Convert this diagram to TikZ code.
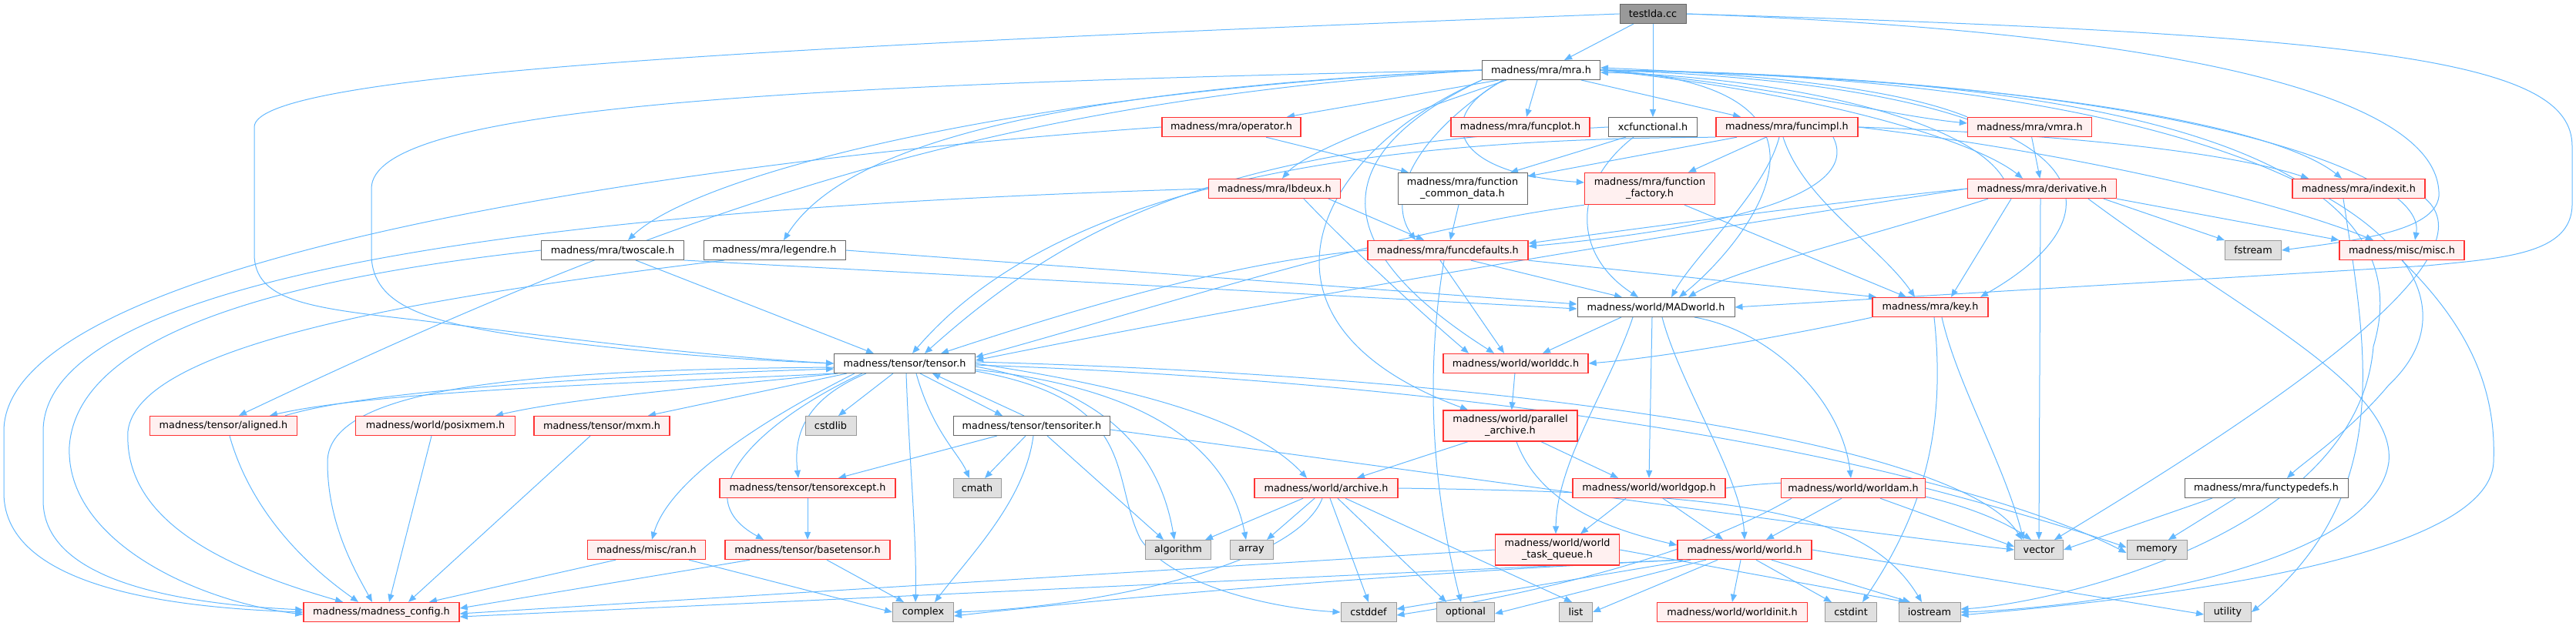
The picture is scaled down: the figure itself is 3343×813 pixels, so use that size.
\documentclass[tikz,border=0pt]{standalone}
\usepackage{fontspec}
\setmainfont{DejaVu Sans}
\usetikzlibrary{arrows.meta,positioning,backgrounds}

\definecolor{edgeblue}{HTML}{63B8FF}
\definecolor{redline}{HTML}{FF3333}
\definecolor{redfill}{HTML}{FFF0F0}
\definecolor{sysfill}{HTML}{E0E0E0}
\definecolor{sysline}{HTML}{999999}
\definecolor{rootfill}{HTML}{999999}
\definecolor{boxline}{HTML}{666666}

\tikzset{
  hdr/.style={draw=boxline, fill=white, line width=1pt, minimum height=25pt,
    inner sep=0pt, font=\fontsize{12.8}{15}\selectfont, align=center},
  redhdr/.style={hdr, draw=redline, fill=redfill, line width=1.4pt},
  syshdr/.style={hdr, draw=sysline, fill=sysfill},
  roothdr/.style={hdr, fill=rootfill},
  dep/.style={draw=edgeblue, line width=1pt, -{Triangle[length=10pt,width=8pt]}},
}

\begin{document}
\begin{tikzpicture}[x=1pt,y=-1pt]
\useasboundingbox (0,0) rectangle (3343,813);

% headers, row by row
\node[roothdr, minimum width=86pt] (testlda) at (2145,18) {testlda.cc};
\node[hdr, minimum width=153pt] (mra) at (2000,91) {madness/mra/mra.h};
\node[redhdr, minimum width=180pt] (operator) at (1598,165) {madness/mra/operator.h};
\node[redhdr, minimum width=180pt] (funcplot) at (1973,165) {madness/mra/funcplot.h};
\node[hdr, minimum width=115pt] (xcfunc) at (2145,165) {xcfunctional.h};
\node[redhdr, minimum width=184pt] (funcimpl) at (2319,165) {madness/mra/funcimpl.h};
\node[redhdr, minimum width=161pt] (vmra) at (2634,165) {madness/mra/vmra.h};
\node[redhdr, minimum width=171pt] (lbdeux) at (1654,245) {madness/mra/lbdeux.h};
\node[hdr, minimum width=168pt, minimum height=41pt] (fcd) at (1898,245) {madness/mra/function\\\_common\_data.h};
\node[redhdr, minimum width=169pt, minimum height=41pt] (factory) at (2141,245) {madness/mra/function\\\_factory.h};
\node[redhdr, minimum width=193pt] (deriv) at (2650,245) {madness/mra/derivative.h};
\node[redhdr, minimum width=172pt] (indexit) at (3061,245) {madness/mra/indexit.h};
\node[hdr, minimum width=185pt] (twoscale) at (795,325) {madness/mra/twoscale.h};
\node[hdr, minimum width=184pt] (legendre) at (1005,325) {madness/mra/legendre.h};
\node[redhdr, minimum width=208pt] (funcdef) at (1879,325) {madness/mra/funcdefaults.h};
\node[syshdr, minimum width=73pt] (fstream) at (2924,325) {fstream};
\node[redhdr, minimum width=162pt] (misc) at (3117,325) {madness/misc/misc.h};
\node[hdr, minimum width=204pt] (madworld) at (2149,399) {madness/world/MADworld.h};
\node[redhdr, minimum width=150pt] (key) at (2505,399) {madness/mra/key.h};
\node[hdr, minimum width=183pt] (tensor) at (1174,472) {madness/tensor/tensor.h};
\node[redhdr, minimum width=188pt] (worlddc) at (1967,472) {madness/world/worlddc.h};
\node[redhdr, minimum width=191pt] (aligned) at (290,553) {madness/tensor/aligned.h};
\node[redhdr, minimum width=207pt] (posixmem) at (565,553) {madness/world/posixmem.h};
\node[redhdr, minimum width=176pt] (mxm) at (781,553) {madness/tensor/mxm.h};
\node[syshdr, minimum width=66pt] (cstdlib) at (1078,553) {cstdlib};
\node[hdr, minimum width=203pt] (tensoriter) at (1339,553) {madness/tensor/tensoriter.h};
\node[redhdr, minimum width=174pt, minimum height=40pt] (parallel) at (1960,553) {madness/world/parallel\\\_archive.h};
\node[redhdr, minimum width=228pt] (tensorexcept) at (1048,634) {madness/tensor/tensorexcept.h};
\node[syshdr, minimum width=62pt] (cmath) at (1268,634) {cmath};
\node[redhdr, minimum width=186pt] (archive) at (1721,634) {madness/world/archive.h};
\node[redhdr, minimum width=198pt] (worldgop) at (2140,634) {madness/world/worldgop.h};
\node[redhdr, minimum width=187pt] (worldam) at (2405,634) {madness/world/worldam.h};
\node[hdr, minimum width=212pt] (functypedefs) at (2941,634) {madness/mra/functypedefs.h};
\node[redhdr, minimum width=153pt] (ran) at (839,714) {madness/misc/ran.h};
\node[redhdr, minimum width=214pt] (basetensor) at (1048,714) {madness/tensor/basetensor.h};
\node[syshdr, minimum width=85pt] (algorithm) at (1529,714) {algorithm};
\node[syshdr, minimum width=56pt] (array) at (1624,714) {array};
\node[redhdr, minimum width=161pt, minimum height=40pt] (taskq) at (2021,714) {madness/world/world\\\_task\_queue.h};
\node[redhdr, minimum width=174pt] (world) at (2264,714) {madness/world/world.h};
\node[syshdr, minimum width=63pt] (vector) at (2646,714) {vector};
\node[syshdr, minimum width=78pt] (memory) at (2799,714) {memory};
\node[redhdr, minimum width=202pt] (config) at (495,795) {madness/madness\_config.h};
\node[syshdr, minimum width=79pt] (complex) at (1198,795) {complex};
\node[syshdr, minimum width=72pt] (cstddef) at (1776,795) {cstddef};
\node[syshdr, minimum width=75pt] (optional) at (1902,795) {optional};
\node[syshdr, minimum width=43pt] (list) at (2045,795) {list};
\node[redhdr, minimum width=195pt] (worldinit) at (2248,795) {madness/world/worldinit.h};
\node[syshdr, minimum width=67pt] (cstdint) at (2402,795) {cstdint};
\node[syshdr, minimum width=80pt] (iostream) at (2504,795) {iostream};
\node[syshdr, minimum width=61pt] (utility) at (2891,795) {utility};

\begin{scope}[on background layer]
% testlda.cc
\draw[dep] ([xshift=-25pt]testlda.south) -- ([xshift=30pt]mra.north);
\draw[dep] (testlda) -- (xcfunc);
\draw[dep] (testlda.west) .. controls (1000,60) and (330,95) .. (330,165) -- (330,330)
  .. controls (330,390) and (400,400) .. (536,415) .. controls (700,435) and (900,462) .. (tensor.west);
\draw[dep] (testlda.east) .. controls (3100,45) and (3338,80) .. (3338,190) -- (3338,265)
  .. controls (3338,330) and (3250,335) .. (3150,345) -- (madworld.east);
\draw[dep] (testlda.east) .. controls (2800,40) and (3170,120) .. (3165,255)
  .. controls (3160,300) and (3060,312) .. (fstream.east);

% mra.h
\draw[dep] ([xshift=-55pt]mra.south) -- ([xshift=72pt]operator.north);
\draw[dep] ([xshift=-5pt]mra.south) -- ([xshift=8pt]funcplot.north);
\draw[dep] ([xshift=52pt]mra.south) -- ([xshift=-60pt]funcimpl.north);
\draw[dep] (mra.east) .. controls (2300,110) and (2450,150) .. ([yshift=5pt]vmra.west);
\draw[dep] ([xshift=-45pt]mra.south) .. controls (1880,130) and (1700,190) .. ([xshift=10pt]lbdeux.north);
\draw[dep] ([xshift=-48pt]mra.south) .. controls (1860,150) and (1880,225) .. ([yshift=8pt]factory.west);
\draw[dep] ([xshift=-50pt]mra.south) .. controls (1830,180) and (1800,260) .. ([xshift=-42pt]funcdef.north);
\draw[dep] (mra.west) .. controls (1300,120) and (900,230) .. ([xshift=20pt]twoscale.north);
\draw[dep] (mra.west) .. controls (1400,115) and (1100,180) .. ([xshift=12pt]legendre.north);
\draw[dep] (mra.west) .. controls (1300,130) and (900,260) .. ([xshift=20pt]aligned.north);
\draw[dep] (mra.west) .. controls (1000,110) and (482,140) .. (482,245) -- (482,330)
  .. controls (482,400) and (560,420) .. (700,440) .. controls (850,460) and (980,468) .. (tensor.west);
\draw[dep] (mra.south west) .. controls (1700,200) and (1600,420) .. ([xshift=-55pt]parallel.north);
\draw[dep] (mra.south west) .. controls (1720,200) and (1720,320) .. ([xshift=-28pt]worlddc.north);
\draw[dep] (mra.east) .. controls (2450,110) and (2250,330) .. ([xshift=30pt]madworld.north);
\draw[dep] (mra.east) .. controls (2700,110) and (2790,260) .. ([xshift=65pt]key.north);
\draw[dep] (mra.east) .. controls (2350,120) and (2560,180) .. ([xshift=-25pt]deriv.north);
\draw[dep] (mra.east) .. controls (2600,100) and (2950,160) .. ([xshift=-22pt]indexit.north);
\draw[dep] (mra.east) .. controls (2800,100) and (3150,220) .. ([xshift=17pt]misc.north);
\draw[dep] (mra.east) .. controls (3000,100) and (3260,350) .. (3100,500)
  .. controls (3050,560) and (2990,600) .. ([xshift=27pt]functypedefs.north);
\draw[dep] (mra.east) .. controls (2900,100) and (3140,250) .. (3080,450)
  .. controls (3060,700) and (2650,785) .. ([yshift=4pt]iostream.east);

% back edges into mra.h
\draw[dep] (vmra.north west) .. controls (2450,110) and (2250,95) .. ([yshift=3pt]mra.east);
\draw[dep] ([xshift=-50pt]deriv.north) .. controls (2550,150) and (2300,100) .. ([yshift=-3pt]mra.east);

% xcfunctional.h
\draw[dep] ([xshift=-35pt]xcfunc.south) -- ([xshift=62pt]fcd.north);
\draw[dep] ([xshift=-25pt]xcfunc.south) .. controls (2040,240) and (2040,330) .. ([xshift=-23pt]madworld.north);
\draw[dep] (xcfunc.west) .. controls (1600,190) and (1400,280) .. ([xshift=26pt]tensor.north);

% funcimpl.h
\draw[dep] ([xshift=-27pt]funcimpl.south) -- ([xshift=50pt]factory.north);
\draw[dep] ([xshift=-65pt]funcimpl.south) -- ([yshift=-5pt]fcd.north east);
\draw[dep] ([xshift=-10pt]funcimpl.south) .. controls (2290,250) and (2200,330) .. ([xshift=20pt]madworld.north);
\draw[dep] ([xshift=-5pt]funcimpl.south) .. controls (2340,260) and (2440,320) .. ([xshift=-20pt]key.north);
\draw[dep] (funcimpl.east) .. controls (2700,175) and (2900,200) .. ([xshift=-65pt]indexit.north);
\draw[dep] (funcimpl.east) .. controls (2700,200) and (2950,260) .. ([xshift=-37pt]misc.north);
\draw[dep] ([xshift=60pt]funcimpl.south) .. controls (2420,260) and (2200,300) .. ([yshift=5pt]funcdef.east);
\draw[dep] (funcimpl.south west) .. controls (1800,180) and (1380,230) .. ([xshift=10pt]tensor.north);

% vmra.h, operator.h, lbdeux.h
\draw[dep] (vmra) -- (deriv);
\draw[dep] ([xshift=45pt]operator.south) -- ([xshift=-70pt]fcd.north);
\draw[dep] (operator.west) .. controls (1000,200) and (5,320) .. (5,560) -- (5,640)
  .. controls (5,770) and (250,790) .. (config.west);
\draw[dep] (lbdeux.west) .. controls (900,265) and (56,330) .. (56,560) -- (56,650)
  .. controls (56,760) and (250,785) .. ([yshift=3pt]config.west);
\draw[dep] ([xshift=70pt]lbdeux.south) -- ([xshift=-31pt]funcdef.north);
\draw[dep] ([xshift=38pt]lbdeux.south) .. controls (1760,330) and (1860,420) .. ([xshift=-61pt]worlddc.north);

% twoscale.h, legendre.h
\draw[dep] ([xshift=30pt]twoscale.south) -- ([xshift=-40pt]tensor.north);
\draw[dep] (twoscale.south east) -- ([yshift=-2pt]madworld.west);
\draw[dep] (twoscale.west) .. controls (380,360) and (100,430) .. (90,580)
  .. controls (85,700) and (250,780) .. ([yshift=-3pt]config.west);
\draw[dep] (legendre.east) -- ([yshift=4pt]madworld.west);
\draw[dep] ([xshift=-65pt]legendre.south) .. controls (600,380) and (180,440) .. (166,560)
  .. controls (160,680) and (300,740) .. ([xshift=-50pt]config.north);

% function_common_data.h, function_factory.h
\draw[dep] ([xshift=-5pt]fcd.south) -- ([xshift=3pt]funcdef.north);
\draw[dep] ([xshift=45pt]factory.south) -- ([xshift=-31pt]key.north);
\draw[dep] (factory.south west) .. controls (1800,300) and (1500,400) .. ([yshift=8pt]tensor.east);

% derivative.h
\draw[dep] (deriv.west) .. controls (2400,260) and (2100,300) .. ([yshift=9pt]funcdef.east);
\draw[dep] ([xshift=-70pt]deriv.south) .. controls (2450,300) and (2250,350) .. ([xshift=42pt]madworld.north);
\draw[dep] ([xshift=-40pt]deriv.south) -- ([xshift=27pt]key.north);
\draw[dep] (deriv.west) .. controls (2200,300) and (1700,380) .. ([yshift=4pt]tensor.east);
\draw[dep] ([xshift=80pt]deriv.south) -- (fstream.north west);
\draw[dep] (deriv.south east) -- (misc.north west);
\draw[dep] ([xshift=-2pt]deriv.south) -- (vector.north);
\draw[dep] ([xshift=60pt]deriv.south) .. controls (2900,400) and (3110,500) .. (3100,600)
  .. controls (3080,740) and (2700,790) .. (iostream.east);

% indexit.h, misc.h, functypedefs.h
\draw[dep] (indexit.south east) .. controls (3230,330) and (3000,500) .. ([xshift=20pt]vector.north);
\draw[dep] ([xshift=-20pt]indexit.south) .. controls (3070,450) and (3110,640) .. (utility.east);
\draw[dep] (misc.south) .. controls (3200,420) and (3240,500) .. (3236,600)
  .. controls (3230,740) and (2700,785) .. ([yshift=-4pt]iostream.east);
\draw[dep] ([xshift=-70pt]functypedefs.south) -- (vector.east);
\draw[dep] ([xshift=-40pt]functypedefs.south) -- ([xshift=15pt]memory.north);

% funcdefaults.h
\draw[dep] (funcdef.west) .. controls (1600,340) and (1400,400) .. ([xshift=47pt]tensor.north);
\draw[dep] ([xshift=-10pt]funcdef.south) -- ([xshift=-15pt]worlddc.north);
\draw[dep] ([xshift=30pt]funcdef.south) -- ([xshift=-44pt]madworld.north);
\draw[dep] (funcdef.south east) -- ([xshift=-70pt]key.north);
\draw[dep] ([xshift=-5pt]funcdef.south) .. controls (1855,450) and (1850,600) .. ([xshift=-6pt]optional.north);

% MADworld.h
\draw[dep] ([xshift=-45pt]madworld.south) -- ([xshift=35pt]worlddc.north);
\draw[dep] ([xshift=-30pt]madworld.south) .. controls (2090,500) and (2020,600) .. ([xshift=-2pt]taskq.north);
\draw[dep] ([xshift=-5pt]madworld.south) -- (worldgop.north);
\draw[dep] ([xshift=8pt]madworld.south) .. controls (2180,500) and (2260,620) .. (world.north);
\draw[dep] ([xshift=50pt]madworld.south) .. controls (2300,430) and (2390,520) .. ([xshift=-3pt]worldam.north);

% key.h, worlddc.h, parallel_archive.h
\draw[dep] (key.south west) .. controls (2300,440) and (2150,465) .. (worlddc.east);
\draw[dep] ([xshift=15pt]key.south) .. controls (2540,500) and (2600,600) .. ([xshift=-20pt]vector.north);
\draw[dep] ([xshift=5pt]key.south) .. controls (2525,550) and (2500,660) .. ([xshift=15pt]cstdint.north);
\draw[dep] (worlddc) -- (parallel);
\draw[dep] ([xshift=-55pt]parallel.south) -- ([xshift=40pt]archive.north);
\draw[dep] ([xshift=40pt]parallel.south) -- ([xshift=-40pt]worldgop.north);
\draw[dep] ([xshift=8pt]parallel.south) .. controls (2000,660) and (2100,690) .. ([yshift=6pt]world.west);

% archive.h
\draw[dep] ([xshift=-30pt]archive.south) -- ([xshift=35pt]algorithm.north);
\draw[dep] ([xshift=-15pt]archive.south) -- ([xshift=20pt]array.north);
\draw[dep] ([xshift=-5pt]archive.south) .. controls (1680,740) and (1400,790) .. (complex.east);
\draw[dep] ([xshift=5pt]archive.south) -- (cstddef.north);
\draw[dep] ([xshift=15pt]archive.south) -- ([xshift=-25pt]optional.north);
\draw[dep] ([xshift=25pt]archive.south) -- ([xshift=-5pt]list.north);
\draw[dep] (archive.east) .. controls (2250,640) and (2420,660) .. ([xshift=-10pt]iostream.north);

% worldgop.h, worldam.h
\draw[dep] ([xshift=-30pt]worldgop.south) -- ([xshift=30pt]taskq.north);
\draw[dep] ([xshift=18pt]worldgop.south) -- ([xshift=-28pt]world.north);
\draw[dep] (worldgop.east) .. controls (2400,610) and (2560,650) .. ([xshift=-10pt]vector.north);
\draw[dep] ([xshift=-15pt]worldam.south) -- ([xshift=28pt]world.north);
\draw[dep] ([xshift=-80pt]worldam.south) .. controls (2200,720) and (2000,770) .. ([yshift=-4pt]cstddef.east);
\draw[dep] ([xshift=35pt]worldam.south) -- ([yshift=4pt]vector.west);
\draw[dep] (worldam.east) .. controls (2600,660) and (2700,690) .. ([yshift=3pt]memory.west);

% world_task_queue.h, world.h
\draw[dep] (taskq.west) -- ([yshift=-2pt]config.east);
\draw[dep] (taskq.east) -- ([xshift=-30pt]iostream.north);
\draw[dep] ([xshift=-85pt]world.south) -- ([yshift=-6pt]config.east);
\draw[dep] ([xshift=-80pt]world.south) .. controls (1900,740) and (1500,770) .. ([yshift=-5pt]complex.east);
\draw[dep] ([xshift=-70pt]world.south) -- ([yshift=4pt]cstddef.east);
\draw[dep] ([xshift=-50pt]world.south) -- ([yshift=-2pt]optional.east);
\draw[dep] ([xshift=-35pt]world.south) -- (list.east);
\draw[dep] ([xshift=-5pt]world.south) -- (worldinit.north);
\draw[dep] ([xshift=15pt]world.south) -- ([xshift=-25pt]cstdint.north);
\draw[dep] ([xshift=35pt]world.south) -- ([xshift=-25pt]iostream.north);
\draw[dep] (world.east) -- ([yshift=-3pt]utility.west);

% tensor.h
\draw[dep] (tensor.south west) .. controls (900,495) and (500,505) .. ([xshift=60pt]aligned.north);
\draw[dep] ([xshift=80pt]aligned.north) .. controls (500,500) and (900,485) .. ([yshift=-7pt]tensor.west);
\draw[dep] ([xshift=5pt]tensor.south west) .. controls (950,500) and (750,515) .. ([xshift=78pt]posixmem.north);
\draw[dep] ([xshift=-75pt]tensor.south) -- ([xshift=60pt]mxm.north);
\draw[dep] ([xshift=-65pt]tensor.south) .. controls (1000,540) and (870,620) .. ([xshift=7pt]ran.north);
\draw[dep] ([xshift=-55pt]tensor.south) .. controls (1000,540) and (880,640) .. ([xshift=-57pt]basetensor.north);
\draw[dep] ([xshift=-50pt]tensor.south) .. controls (1040,520) and (1030,570) .. ([xshift=-12pt]tensorexcept.north);
\draw[dep] ([xshift=-15pt]tensor.south) -- ([xshift=10pt]cstdlib.north);
\draw[dep] ([xshift=2pt]tensor.south) .. controls (1180,600) and (1190,700) .. ([xshift=-10pt]complex.north);
\draw[dep] ([xshift=15pt]tensor.south) .. controls (1210,560) and (1245,590) .. ([xshift=-10pt]cmath.north);
\draw[dep] ([xshift=20pt]tensor.south) -- ([xshift=-38pt]tensoriter.north);
\draw[dep] ([yshift=-5pt]tensor.west) .. controls (700,480) and (425,500) .. (425,600)
  .. controls (425,680) and (460,740) .. ([xshift=-12pt]config.north);
\draw[dep] (tensor.east) .. controls (1450,500) and (1620,540) .. ([xshift=-25pt]archive.north);
\draw[dep] ([yshift=-4pt]tensor.east) .. controls (1400,500) and (1500,560) .. ([xshift=-5pt]algorithm.north);
\draw[dep] ([yshift=-8pt]tensor.east) .. controls (1450,500) and (1590,560) .. ([xshift=-7pt]array.north);
\draw[dep] ([yshift=-10pt]tensor.east) .. controls (1480,520) and (1440,620) .. (1480,700)
  .. controls (1520,760) and (1650,790) .. (cstddef.west);
\draw[dep] ([yshift=2pt]tensor.east) .. controls (2000,490) and (2550,580) .. ([xshift=-22pt]vector.north);
\draw[dep] ([yshift=-2pt]tensor.east) .. controls (2000,500) and (2550,610) .. ([yshift=-4pt]memory.west);

% tensoriter.h and the rest of the tensor headers
\draw[dep] ([xshift=-10pt]tensoriter.north) -- ([xshift=36pt]tensor.south);
\draw[dep] ([xshift=-45pt]tensoriter.south) -- ([xshift=40pt]tensorexcept.north);
\draw[dep] ([xshift=-8pt]tensoriter.south) -- ([xshift=10pt]cmath.north);
\draw[dep] ([xshift=2pt]tensoriter.south) .. controls (1330,650) and (1260,720) .. ([xshift=15pt]complex.north);
\draw[dep] ([xshift=20pt]tensoriter.south) -- ([xshift=-19pt]algorithm.north);
\draw[dep] ([yshift=-5pt]tensoriter.east) .. controls (1900,620) and (2400,690) .. (vector.west);
\draw[dep] (tensorexcept) -- (basetensor);
\draw[dep] ([xshift=25pt]basetensor.south) -- ([xshift=-25pt]complex.north);
\draw[dep] ([xshift=-75pt]basetensor.south) -- ([yshift=5pt]config.east);
\draw[dep] ([xshift=55pt]ran.south) -- (complex.west);
\draw[dep] ([xshift=-40pt]ran.south) -- ([xshift=62pt]config.north);
\draw[dep] ([xshift=8pt]aligned.south) .. controls (330,680) and (420,750) .. ([xshift=-30pt]config.north);
\draw[dep] ([xshift=-5pt]posixmem.south) -- ([xshift=10pt]config.north);
\draw[dep] ([xshift=-15pt]mxm.south) -- ([xshift=35pt]config.north);
\end{scope}
\end{tikzpicture}
\end{document}
